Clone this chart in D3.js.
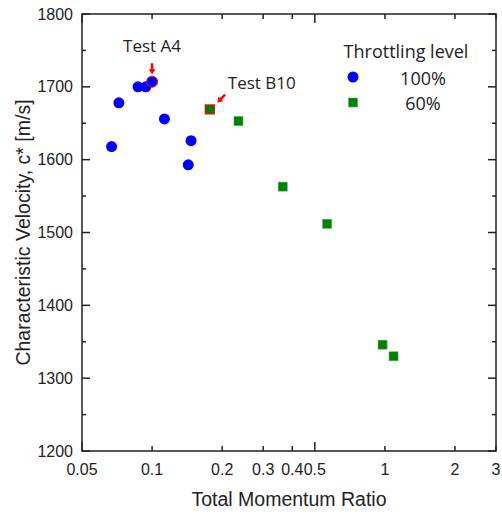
<!DOCTYPE html>
<html>
<head>
<meta charset="utf-8">
<script src="https://cdn.jsdelivr.net/npm/d3@7"></script>
<style>
  body { margin: 0; background: #fff; }
  svg { display: block; }
</style>
</head>
<body>
<svg id="chart"></svg>
<script>
// data
const fullRatio = [0.067, 0.072, 0.087, 0.094, 0.1, 0.113, 0.147, 0.143];
const fullCstar = [1618, 1678, 1700, 1700, 1707, 1656, 1626, 1593];
const partRatio = [0.177, 0.235, 0.364, 0.565, 0.977, 1.089];
const partCstar = [1669, 1653, 1563, 1512, 1346, 1330];
const xTicks = [0.05, 0.1, 0.2, 0.3, 0.4, 0.5, 1, 2, 3];
const xMajor = [0.05, 0.5];
const yTicks = [1200, 1300, 1400, 1500, 1600, 1700, 1800];
const yMinor = [1250, 1350, 1450, 1550, 1650, 1750];
const seriesNames = ["100%", "60%"];

const full = fullRatio.map((r, i) => ({ r, c: fullCstar[i], test: i === 4 ? "A4" : null }));
const part = partRatio.map((r, i) => ({ r, c: partCstar[i], test: i === 0 ? "B10" : null }));

const W = 502, H = 515;
const margin = { top: 14, right: 6, bottom: 64, left: 82 };
const width = W - margin.left - margin.right,
      height = H - margin.top - margin.bottom;

const svg = d3.select("#chart").attr("width", W).attr("height", H)
  .append("g")
  .attr("transform", `translate(${margin.left},${margin.top})`);

const x = d3.scaleLog().domain([0.05, 3]).range([0, width]);
const y = d3.scaleLinear().domain([1200, 1800]).range([height, 0]);

const axisFont = "'Liberation Sans', Arial, sans-serif";
const noteFont = "'Open Sans', 'Noto Sans', sans-serif";
const ink = "#222";

// frame
svg.append("rect")
  .attr("width", width).attr("height", height)
  .attr("fill", "none").attr("stroke", ink).attr("stroke-width", 1.5);

// inward ticks on all four sides
const tickLen = v => xMajor.includes(v) ? 9 : 5;
xTicks.forEach(v => {
  const px = x(v);
  svg.append("line").attr("x1", px).attr("x2", px).attr("y1", height).attr("y2", height - tickLen(v))
    .attr("stroke", ink).attr("stroke-width", 1.5);
  svg.append("line").attr("x1", px).attr("x2", px).attr("y1", 0).attr("y2", tickLen(v))
    .attr("stroke", ink).attr("stroke-width", 1.5);
});
yTicks.concat(yMinor).forEach(v => {
  const py = y(v), len = yTicks.includes(v) ? 8 : 4;
  svg.append("line").attr("x1", 0).attr("x2", len).attr("y1", py).attr("y2", py)
    .attr("stroke", ink).attr("stroke-width", 1.5);
  svg.append("line").attr("x1", width).attr("x2", width - len).attr("y1", py).attr("y2", py)
    .attr("stroke", ink).attr("stroke-width", 1.5);
});

// tick labels
svg.selectAll(".xlab").data(xTicks).enter().append("text")
  .attr("x", d => x(d)).attr("y", height + 24)
  .attr("text-anchor", "middle")
  .style("font-family", axisFont).style("font-size", "16px").style("fill", ink)
  .text(d => d);

svg.selectAll(".ylab").data(yTicks).enter().append("text")
  .attr("x", -9).attr("y", d => y(d)).attr("dy", "0.35em")
  .attr("text-anchor", "end")
  .style("font-family", axisFont).style("font-size", "16px").style("fill", ink)
  .text(d => d);

// axis titles
svg.append("text")
  .attr("x", width / 2).attr("y", height + 55)
  .attr("text-anchor", "middle")
  .style("font-family", axisFont).style("font-size", "19.5px").style("fill", ink)
  .text("Total Momentum Ratio");

svg.append("text")
  .attr("transform", `translate(${-52},${height / 2}) rotate(-90)`)
  .attr("text-anchor", "middle")
  .style("font-family", axisFont).style("font-size", "19.5px").style("fill", ink)
  .text("Characteristic Velocity, c* [m/s]");

// points
svg.selectAll(".full").data(full).enter().append("circle")
  .attr("cx", d => x(d.r)).attr("cy", d => y(d.c)).attr("r", 5.5)
  .attr("fill", "#0000ff")
  .attr("stroke", d => d.test ? "#ff0000" : "none").attr("stroke-width", 1);

svg.selectAll(".part").data(part).enter().append("rect")
  .attr("x", d => x(d.r) - 4.5).attr("y", d => y(d.c) - 4.5)
  .attr("width", 9).attr("height", 9)
  .attr("fill", "#008000")
  .attr("stroke", d => d.test ? "#ff0000" : "#4caf50").attr("stroke-width", d => d.test ? 1.2 : 0.6);

// arrows pointing at the named tests
function arrow(tx, ty, angle) {
  svg.append("path")
    .attr("d", "M0,0 L-3.5,-5 L-1.3,-5 L-1.3,-11 L1.3,-11 L1.3,-5 L3.5,-5 Z")
    .attr("transform", `translate(${tx},${ty}) rotate(${angle})`)
    .attr("fill", "#ff0000");
}
const a4 = full.find(d => d.test), b10 = part.find(d => d.test);
arrow(x(a4.r), y(a4.c) - 7.5, 0);
arrow(x(b10.r) + 7.5, y(b10.c) - 7, 45);

svg.append("text")
  .attr("x", x(a4.r)).attr("y", y(a4.c) - 30)
  .attr("text-anchor", "middle")
  .style("font-family", noteFont).style("font-size", "17px").style("fill", ink)
  .text("Test " + a4.test);

svg.append("text")
  .attr("x", x(b10.r) + 18).attr("y", y(b10.c) - 20)
  .style("font-family", noteFont).style("font-size", "17px").style("fill", ink)
  .text("Test " + b10.test);

// legend
const lg = svg.append("g").attr("transform", `translate(${271},${0})`);
lg.append("text")
  .attr("x", 53).attr("y", 44)
  .attr("text-anchor", "middle")
  .style("font-family", noteFont).style("font-size", "18px").style("fill", ink)
  .text("Throttling level");
lg.append("circle").attr("cx", 0).attr("cy", 63).attr("r", 5.5).attr("fill", "#0000ff");
lg.append("rect").attr("x", -4.5).attr("y", 84).attr("width", 9).attr("height", 9)
  .attr("fill", "#008000").attr("stroke", "#4caf50").attr("stroke-width", 0.6);
lg.selectAll(".lt").data(seriesNames).enter().append("text")
  .attr("x", 70).attr("y", (d, i) => 71 + i * 25)
  .attr("text-anchor", "middle")
  .style("font-family", noteFont).style("font-size", "18px").style("fill", ink)
  .text(d => d);
</script>
</body>
</html>
